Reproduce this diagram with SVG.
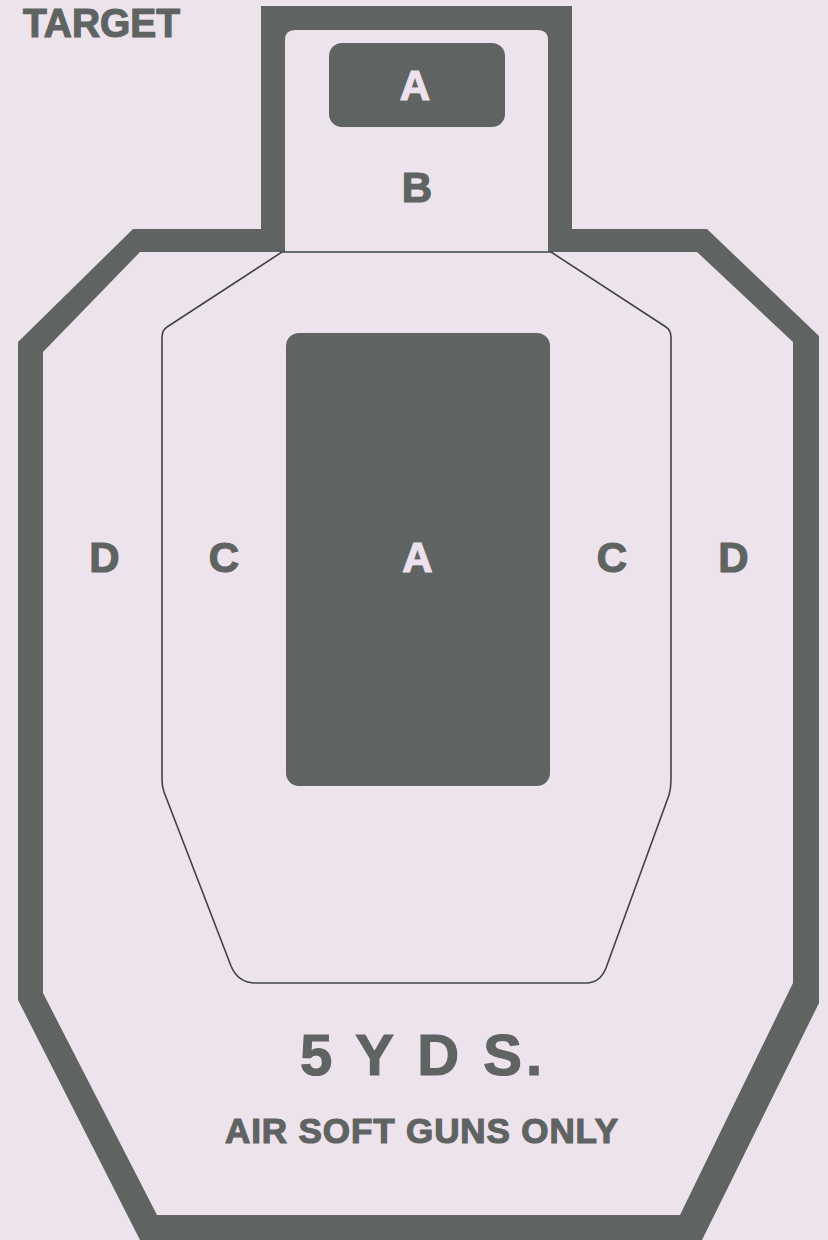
<svg xmlns="http://www.w3.org/2000/svg" width="828" height="1240" viewBox="0 0 828 1240">
<style>
.g{fill:#5f6462}
.t{font-family:"Liberation Sans",Arial,sans-serif;font-weight:bold}
.lt{fill:#ece1ec;stroke:#ece1ec;stroke-width:1.2}
.dk{fill:#5f6462;stroke:#5f6462;stroke-width:1.2}
.ln{fill:none;stroke:#3f4443;stroke-width:1.6;stroke-linejoin:round}
</style>
<rect width="828" height="1240" fill="#ede3ec"/>
<g id="title">
<text class="t dk" x="23" y="37" font-size="40" textLength="157" lengthAdjust="spacingAndGlyphs">TARGET</text>
</g>
<g id="outer-frame">
<path class="g" fill-rule="evenodd" d="M261,6 H572 V229 H707 L819,336 V1003 L702,1240 H140 L18,1000 V342 L133,229 H261 Z M295,30 H538 Q548,30 548,40 V252 H697 L793,342 V983 L680,1215 H157 L43,993 V352 L140,252 H285 V40 Q285,30 295,30 Z"/>
</g>
<g id="c-zone">
<path class="ln" d="M282,252 L167,327 Q162,330 162,338 V780 Q162,786 164,792 L231,966 Q238,983 256,983 H586 Q600,983 606,968 L669,795 Q671,788 671,780 V338 Q671,330 666,327 L551,252 Z"/>
</g>
<g id="head-a">
<rect class="g" x="329" y="43" width="176" height="84" rx="13"/>
<text class="t lt" x="415" y="100" font-size="42" text-anchor="middle">A</text>
</g>
<g id="head-b">
<text class="t dk" x="417" y="202" font-size="42" text-anchor="middle">B</text>
</g>
<g id="body-a">
<rect class="g" x="286" y="333" width="264" height="453" rx="13"/>
<text class="t lt" x="417.5" y="572" font-size="42" text-anchor="middle">A</text>
</g>
<g id="zone-labels">
<text class="t dk" x="104.5" y="572" font-size="42" text-anchor="middle">D</text>
<text class="t dk" x="224" y="572" font-size="42" text-anchor="middle">C</text>
<text class="t dk" x="612" y="572" font-size="42" text-anchor="middle">C</text>
<text class="t dk" x="733.5" y="572" font-size="42" text-anchor="middle">D</text>
</g>
<g id="footer">
<text class="t dk" x="300" y="1075" font-size="58" textLength="242" lengthAdjust="spacing" stroke-width="1.8">5 Y D S.</text>
<text class="t dk" x="225" y="1143" font-size="35" textLength="393" lengthAdjust="spacing">AIR SOFT GUNS ONLY</text>
</g>
</svg>
